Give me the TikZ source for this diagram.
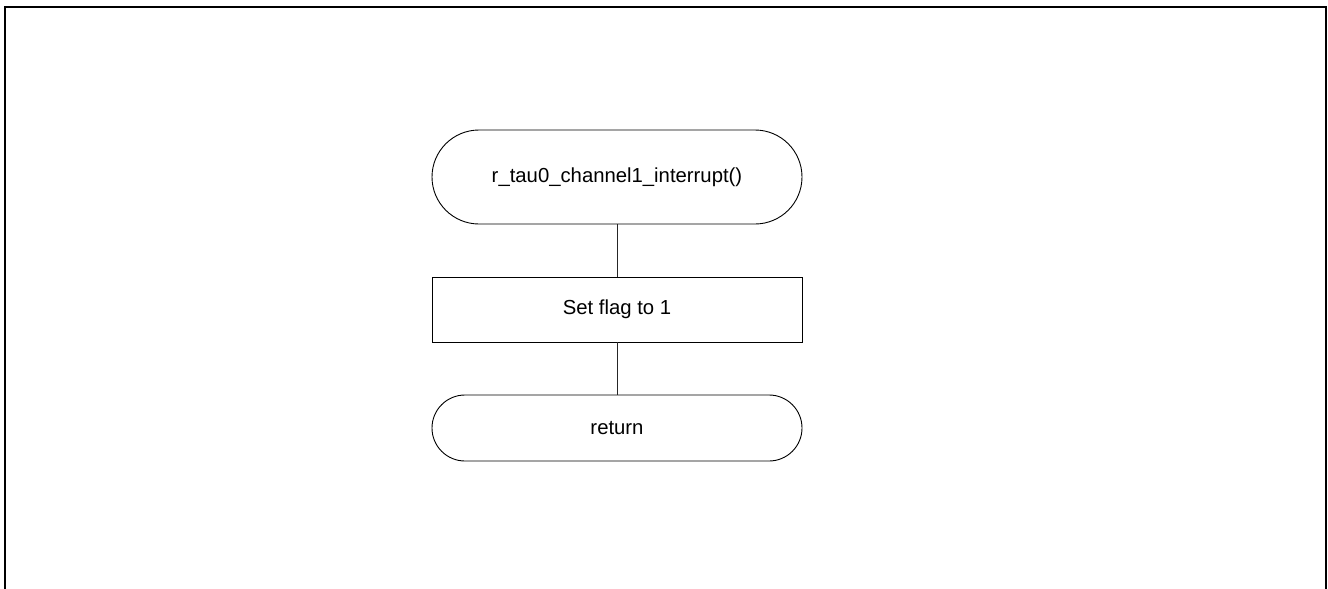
\documentclass[tikz,border=0pt]{standalone}
\usepackage{fontspec}
\setmainfont{Liberation Sans}
\begin{document}
\begin{tikzpicture}[x=1pt,y=-1pt,
  every node/.style={font=\fontsize{20.3}{24}\selectfont, inner sep=0pt, outer sep=0pt},
  terminal/.style={draw, line width=0.9pt, minimum width=370pt, rounded corners=#1},
  process/.style={draw, line width=0.9pt, minimum width=370pt, minimum height=65pt},
  conn/.style={line width=0.9pt, draw=black!85}]
\useasboundingbox (0,0) rectangle (1328,589);
\draw[line width=2pt] (5,590) -- (5,7) -- (1326,7) -- (1326,590);
\node[terminal=47pt, minimum height=94pt] (start) at (617,177) {r\_tau0\_channel1\_interrupt()};
\node[process] (set) at (617,309.5) {Set flag to 1};
\node[terminal=33pt, minimum height=66pt] (ret) at (617,428) {return};
\draw[conn] (start.south) -- (set.north);
\draw[conn] (set.south) -- (ret.north);
\end{tikzpicture}
\end{document}
